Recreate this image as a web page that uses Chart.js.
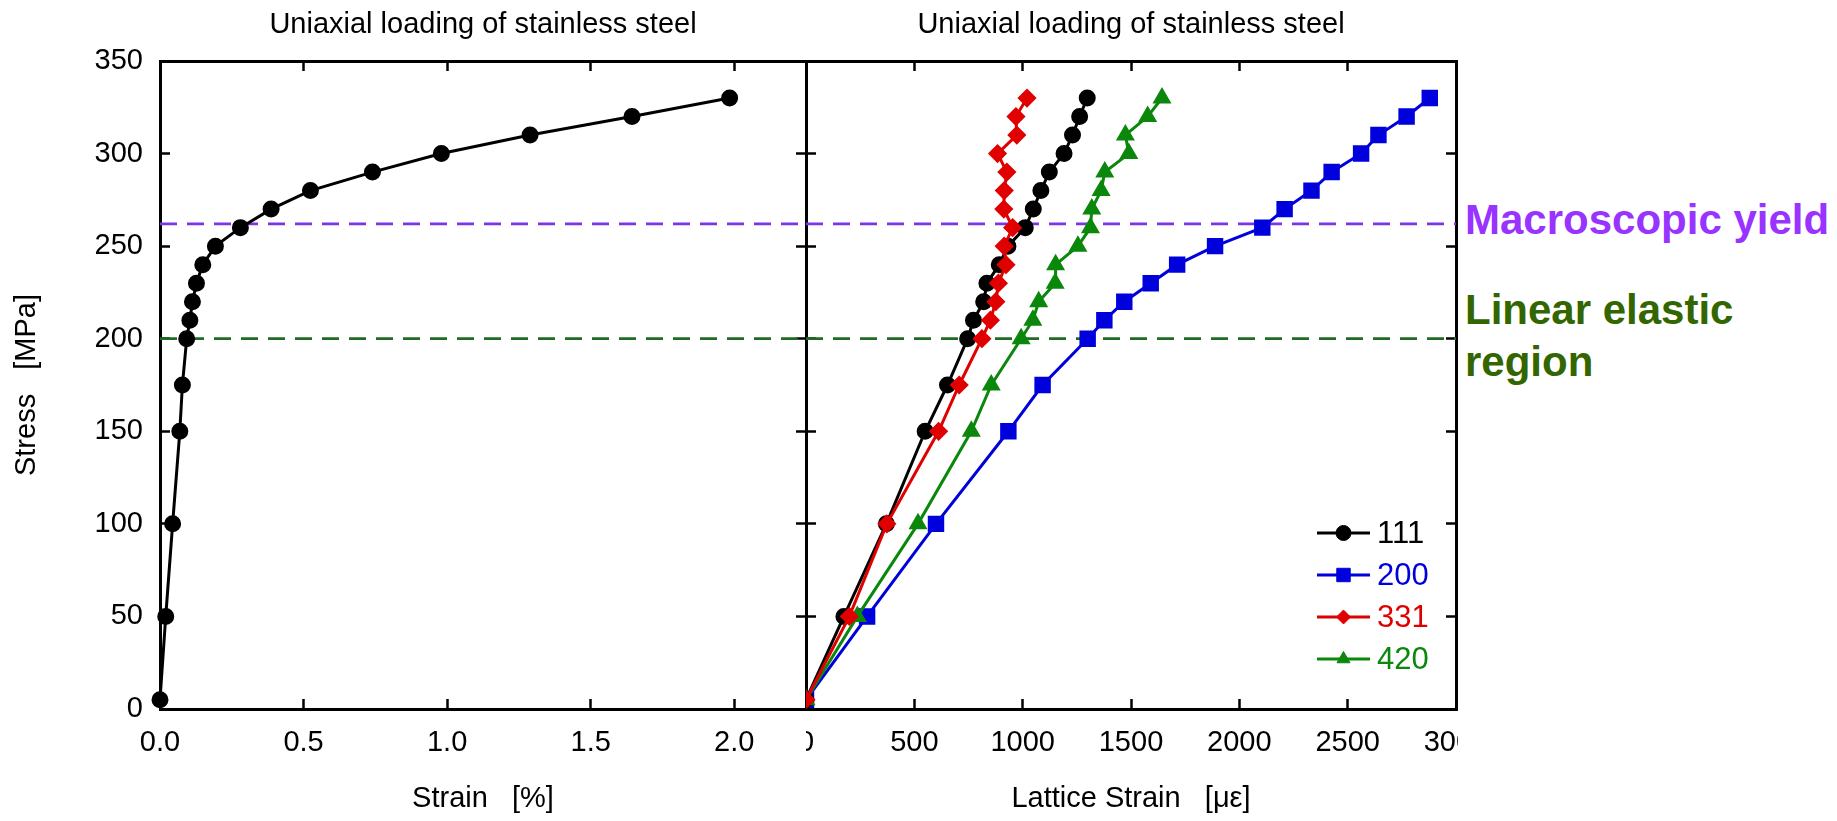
<!DOCTYPE html>
<html>
<head>
<meta charset="utf-8">
<script src="https://cdn.jsdelivr.net/npm/chart.js@4.4.1/dist/chart.umd.min.js"></script>
<style>
  html, body { margin: 0; padding: 0; background: #fff; }
  #wrap { position: relative; width: 1837px; height: 821px; overflow: hidden; background: #fff; }
  #leftChart { position: absolute; left: 0; top: 0; }
  #rightChart { position: absolute; left: 806px; top: 0; }
  .note { position: absolute; left: 1465px; font: bold 42px "Liberation Sans", Arial, sans-serif; line-height: 52px; white-space: nowrap; }
</style>
</head>
<body>
<div id="wrap">
  <canvas id="leftChart" width="808" height="821"></canvas>
  <canvas id="rightChart" width="652" height="821"></canvas>
  <div class="note" style="top:194px;color:#9933ff">Macroscopic yield</div>
  <div class="note" style="top:284px;color:#336600">Linear elastic<br>region</div>
</div>
<script>
// applied stress levels [MPa], shared by both panels
const stress = [5, 50, 100, 150, 175, 200, 210, 220, 230, 240, 250, 260, 270, 280, 290, 300, 310, 320, 330];

// macroscopic strain [%]
const macroStrain = [0.0, 0.02, 0.044, 0.069, 0.078, 0.093, 0.104, 0.113, 0.127, 0.149, 0.193, 0.28, 0.387, 0.524, 0.74, 0.98, 1.289, 1.644, 1.984];

// lattice strain per reflection [micro-strain]
const strain111 = [0, 175, 371, 550, 653, 746, 773, 820, 835, 892, 932, 1012, 1049, 1084, 1123, 1191, 1230, 1263, 1298];
const strain200 = [0, 282, 600, 934, 1092, 1300, 1377, 1469, 1591, 1713, 1888, 2106, 2209, 2333, 2426, 2562, 2642, 2772, 2879];
const strain331 = [0, 200, 373, 612, 707, 812, 851, 876, 888, 923, 915, 954, 913, 915, 927, 884, 973, 969, 1020];
const strain420 = [0, 237, 517, 763, 855, 993, 1047, 1074, 1150, 1152, 1255, 1313, 1319, 1362, 1379, 1490, 1474, 1577, 1643];

const reflections = ['111', '200', '331', '420'];

// reference levels
const yieldStress = 262;
const elasticLimit = 200;

const sans = '"Liberation Sans", Arial, sans-serif';

Chart.defaults.color = '#000';
Chart.defaults.font.family = sans;

function pairs(xs, ys) {
    return xs.map((x, i) => ({ x: x, y: ys[i] }));
}

// pin scale box sizes so both panels line up
function fixSize(size) {
    return function(scale) {
        if (scale.isHorizontal()) {
            scale.height = size;
            scale.paddingLeft = 0;
            scale.paddingRight = 0;
        } else {
            scale.width = size;
            scale.paddingTop = 0;
            scale.paddingBottom = 0;
        }
    };
}

const frame = { display: true, color: '#000', width: 3 };
const inward = { display: true, drawOnChartArea: false, drawTicks: true, tickLength: -10, tickColor: '#000', tickWidth: 2.5, color: '#000' };

function guideLines(xMax) {
    return [
        { data: [{ x: 0, y: yieldStress }, { x: xMax, y: yieldStress }], guide: true, showLine: true,
          borderColor: '#7b35e6', borderWidth: 2.8, borderDash: [17, 10], pointRadius: 0, order: 10 },
        { data: [{ x: 0, y: elasticLimit }, { x: xMax, y: elasticLimit }], guide: true, showLine: true,
          borderColor: '#1f6a24', borderWidth: 2.8, borderDash: [17, 10], pointRadius: 0, order: 10 }
    ];
}

function yScales(withLabels) {
    return {
        y: {
            type: 'linear', position: 'left', min: 0, max: 350,
            border: frame, grid: inward,
            ticks: { display: withLabels, stepSize: 50, padding: 27, font: { size: 29 } },
            title: { display: withLabels, text: 'Stress   [MPa]', font: { size: 29 }, padding: { top: 10, bottom: 0 } },
            afterFit: fixSize(withLabels ? 160 : 0)
        },
        y2: {
            type: 'linear', position: 'right', min: 0, max: 350,
            border: frame, grid: inward,
            ticks: { display: false, stepSize: 50 },
            afterFit: fixSize(0)
        }
    };
}

const titleOpts = {
    display: true, text: 'Uniaxial loading of stainless steel', fullSize: false,
    font: { size: 29, weight: 'normal' }, color: '#000',
    padding: { top: 8, bottom: 18.2 }
};

// legend drawn inside the plot, lower right
const innerLegend = {
    id: 'innerLegend',
    afterDatasetsDraw(chart) {
        const ctx = chart.ctx;
        const area = chart.chartArea;
        const sets = chart.data.datasets.filter(d => !d.guide);
        ctx.save();
        sets.forEach((ds, i) => {
            const y = area.bottom - 176 + i * 42;
            const x0 = area.right - 139, x1 = area.right - 86;
            ctx.strokeStyle = ds.borderColor;
            ctx.fillStyle = ds.borderColor;
            ctx.lineWidth = 3;
            ctx.setLineDash([]);
            ctx.beginPath();
            ctx.moveTo(x0, y);
            ctx.lineTo(x1, y);
            ctx.stroke();
            ctx.lineWidth = 1;
            Chart.helpers.drawPoint(ctx, { pointStyle: ds.pointStyle, radius: ds.legendRadius, borderWidth: 1, rotation: 0 }, (x0 + x1) / 2, y);
            ctx.font = '31px ' + sans;
            ctx.textAlign = 'left';
            ctx.textBaseline = 'middle';
            ctx.fillText(ds.label, area.right - 79, y + 1);
        });
        ctx.restore();
    }
};

// left panel: macroscopic stress-strain curve
new Chart(document.getElementById('leftChart'), {
    type: 'scatter',
    data: {
        datasets: [
            { label: 'macro', data: pairs(macroStrain, stress), showLine: true, clip: false,
              borderColor: '#000', backgroundColor: '#000', borderWidth: 3,
              pointStyle: 'circle', pointRadius: 7, pointBackgroundColor: '#000', order: 1 }
        ].concat(guideLines(2.25))
    },
    options: {
        responsive: false, animation: false,
        layout: { autoPadding: false, padding: { left: 0, right: 2, top: 0, bottom: 0 } },
        plugins: { legend: { display: false }, tooltip: { enabled: false }, title: titleOpts },
        scales: Object.assign({
            x: {
                type: 'linear', position: 'bottom', min: 0, max: 2.25,
                border: frame, grid: inward,
                ticks: { stepSize: 0.5, includeBounds: false, padding: 27, maxRotation: 0, autoSkip: false,
                         font: { size: 29 }, callback: v => v.toFixed(1) },
                title: { display: true, text: 'Strain   [%]', font: { size: 29 }, padding: { top: 0, bottom: 5 } },
                afterFit: fixSize(112)
            },
            x2: {
                type: 'linear', position: 'top', min: 0, max: 2.25,
                border: frame, grid: inward,
                ticks: { display: false, stepSize: 0.5, includeBounds: false },
                afterFit: fixSize(0)
            }
        }, yScales(true))
    }
});

// right panel: lattice strain per reflection
const seriesStyle = [
    { data: strain111, color: '#000000', style: 'circle', r: 7, lr: 7.5, order: 3 },
    { data: strain200, color: '#0000dd', style: 'rect', r: 9.5, lr: 9.5, order: 4 },
    { data: strain331, color: '#e00000', style: 'rectRot', r: 7.5, lr: 7, order: 1 },
    { data: strain420, color: '#0b870b', style: 'triangle', r: 8, lr: 7.5, order: 2 }
];

new Chart(document.getElementById('rightChart'), {
    type: 'scatter',
    plugins: [innerLegend],
    data: {
        datasets: seriesStyle.map((s, i) => ({
            label: reflections[i], data: pairs(s.data, stress), showLine: true, clip: false,
            borderColor: s.color, backgroundColor: s.color, borderWidth: 3,
            pointStyle: s.style, pointRadius: s.r, pointBackgroundColor: s.color, pointBorderColor: s.color,
            legendRadius: s.lr, order: s.order
        })).concat(guideLines(3000))
    },
    options: {
        responsive: false, animation: false,
        layout: { autoPadding: false, padding: { left: 0, right: 2, top: 0, bottom: 0 } },
        plugins: { legend: { display: false }, tooltip: { enabled: false }, title: titleOpts },
        scales: Object.assign({
            x: {
                type: 'linear', position: 'bottom', min: 0, max: 3000,
                border: frame, grid: inward,
                ticks: { stepSize: 500, padding: 27, maxRotation: 0, autoSkip: false, font: { size: 29 },
                         callback: v => String(v) },
                title: { display: true, text: 'Lattice Strain   [\u03bc\u03b5]', font: { size: 29 }, padding: { top: 0, bottom: 5 } },
                afterFit: fixSize(112)
            },
            x2: {
                type: 'linear', position: 'top', min: 0, max: 3000,
                border: frame, grid: inward,
                ticks: { display: false, stepSize: 500 },
                afterFit: fixSize(0)
            }
        }, yScales(false))
    }
});
</script>
</body>
</html>
